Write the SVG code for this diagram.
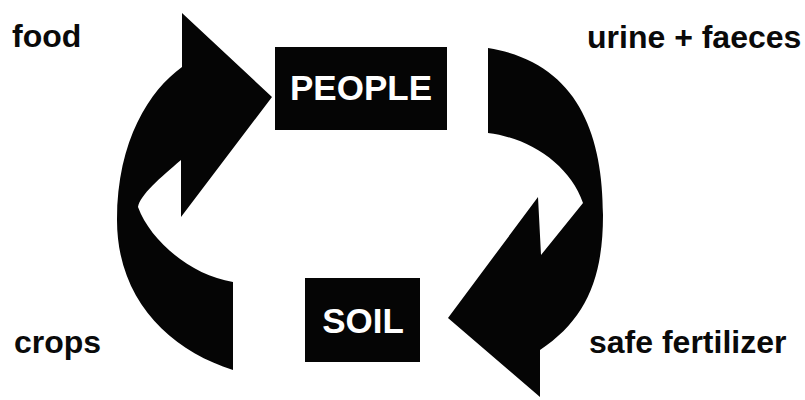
<svg xmlns="http://www.w3.org/2000/svg" width="805" height="400" viewBox="0 0 805 400">
  <style>
    .box { fill: #050505; }
    .boxtext { fill: #ffffff; font-family: "Liberation Sans", Arial, sans-serif; font-size: 35px; font-weight: bold; text-anchor: middle; }
    .label { fill: #0a0a0a; font-family: "Liberation Sans", Arial, sans-serif; font-size: 32px; font-weight: bold; }
    .arrow { fill: #050505; stroke: none; }
  </style>
  <rect width="805" height="400" fill="#ffffff"/>
  <g id="connectors">
    <path id="arrow-left" class="arrow" d="M182,13 L272,97 L181,217 L181,160 C160,178 140,195 138,207 C150,240 190,275 233,282 L233,370 C170,350 117,300 117,220 C117,140 150,90 182,67 Z"/>
    <path id="arrow-right" class="arrow" d="M488,48 L488,133 C530,138 570,165 583,203 L541,255 L538,197 L448,318 L540,397 L540,350 C585,320 603,280 603,215 C603,130 575,62 488,48 Z"/>
  </g>
  <g id="people">
    <rect class="box" x="275" y="47" width="172" height="83"/>
    <text class="boxtext" x="361" y="100">PEOPLE</text>
  </g>
  <g id="soil">
    <rect class="box" x="305" y="278" width="115" height="84"/>
    <text class="boxtext" x="363" y="333">SOIL</text>
  </g>
  <g id="label-food"><text class="label" x="12" y="47">food</text></g>
  <g id="label-urine"><text class="label" x="587" y="48">urine + faeces</text></g>
  <g id="label-crops"><text class="label" x="14" y="353">crops</text></g>
  <g id="label-fertilizer"><text class="label" x="589" y="353">safe fertilizer</text></g>
</svg>
